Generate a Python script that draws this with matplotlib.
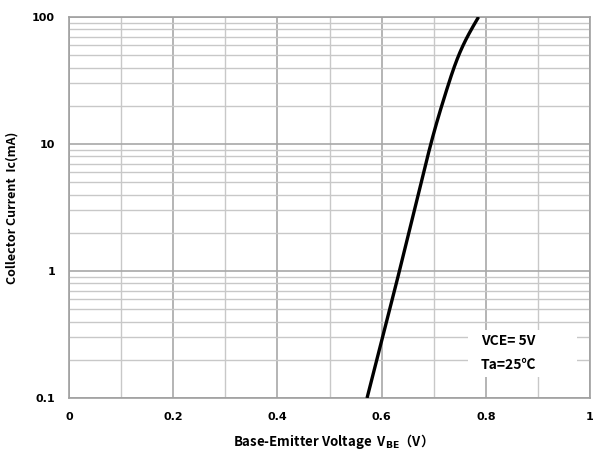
import numpy as np
import matplotlib.pyplot as plt
from matplotlib.patches import Rectangle
from matplotlib.ticker import FixedLocator, LogLocator, NullFormatter

plt.rcParams['font.family'] = ['Noto Sans CJK SC', 'DejaVu Sans']

# Ic-VBE curve
vbe = [0.572, 0.630, 0.688, 0.699, 0.712, 0.725, 0.738, 0.750, 0.763, 0.786]
ic = [0.1, 0.85, 7.94, 12.1, 18.5, 26.6, 39.4, 58.0, 74.5, 100.0]

x_ticks = [0, 0.2, 0.4, 0.6, 0.8, 1.0]
x_labels = ['0', '0.2', '0.4', '0.6', '0.8', '1']
y_ticks = [0.1, 1, 10, 100]
y_labels = ['0.1', '1', '10', '100']

# smooth the curve: VBE as a function of log(Ic)
log_fine = np.linspace(np.log10(ic[0]), np.log10(ic[-1]), 300)
v_fine = np.interp(log_fine, np.log10(ic), vbe)
for k in (41, 41):
    kernel = np.ones(k) / k
    v_fine = np.convolve(np.pad(v_fine, k // 2, mode='reflect', reflect_type='odd'),
                         kernel, mode='valid')

fig = plt.figure(figsize=(5.93, 4.54), dpi=100)
ax = fig.add_axes([0.1164, 0.1233, 0.8786, 0.8393])

ax.plot(v_fine, 10 ** log_fine, color='black', lw=2.4, solid_capstyle='butt', zorder=3)

ax.set_yscale('log')
ax.set_xlim(0, 1)
ax.set_ylim(0.1, 100)

ax.xaxis.set_major_locator(FixedLocator(x_ticks))
ax.xaxis.set_minor_locator(FixedLocator(np.arange(0.1, 1.0, 0.2)))
ax.set_xticklabels(x_labels)
ax.yaxis.set_major_locator(FixedLocator(y_ticks))
ax.yaxis.set_minor_locator(LogLocator(base=10, subs=np.arange(2, 10)))
ax.yaxis.set_minor_formatter(NullFormatter())
ax.set_yticklabels(y_labels)

ax.grid(which='major', color='#a8a8a8', lw=1.2)
ax.grid(which='minor', color='#c8c8c8', lw=1.0)
ax.tick_params(which='both', length=0, labelsize=8, pad=10)
for lab in ax.get_xticklabels() + ax.get_yticklabels():
    lab.set_fontweight('bold')
    lab.set_family('DejaVu Sans')
for s in ax.spines.values():
    s.set_color('#a0a0a0')
    s.set_linewidth(1.2)

ax.set_ylabel('Collector Current  Ic(mA)', fontsize=9, fontweight='bold', labelpad=10)
ax.set_xlabel('Base-Emitter Voltage  V$_{\\mathbf{BE}}$（V）', fontsize=9.5,
              fontweight='bold', labelpad=7)

# white panel behind the test conditions
ax.add_patch(Rectangle((0.766, 0.055), 0.209, 0.123, transform=ax.transAxes,
                       facecolor='white', edgecolor='none', zorder=2.5))
ax.text(0.843, 0.118, 'VCE= 5V\n\nTa=25℃', fontsize=10, fontweight='bold',
        ha='center', va='center', linespacing=0.85, transform=ax.transAxes, zorder=4)

fig.savefig('out.png', dpi=100)
